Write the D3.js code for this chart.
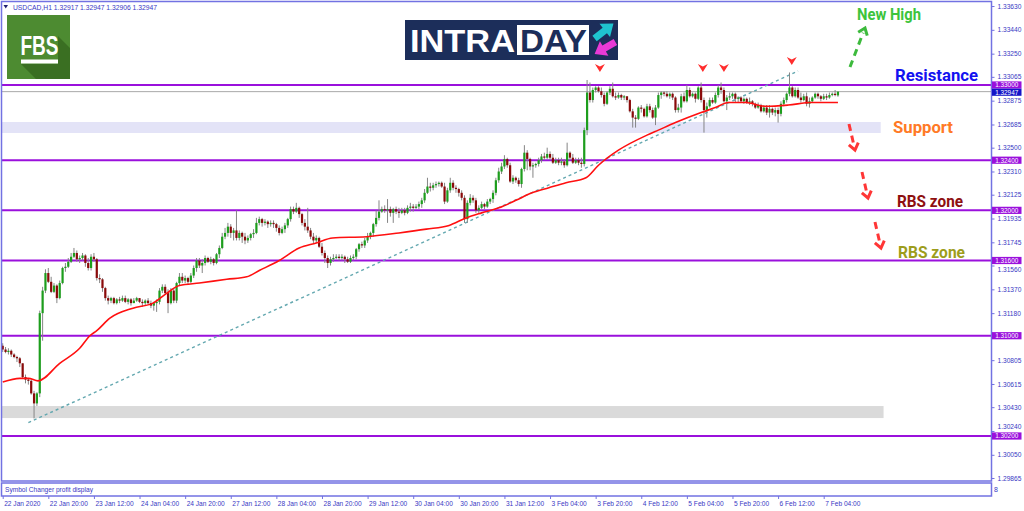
<!DOCTYPE html>
<html><head><meta charset="utf-8">
<script src="https://cdn.jsdelivr.net/npm/d3@7"></script>
<style>
html,body{margin:0;padding:0;background:#fff;}
svg{display:block;}
</style></head>
<body>
<svg id="c" width="1024" height="511"></svg>
<script>
// ---------------- DATA (USDCAD H1, one entry per bar) ----------------
const symbolInfo = "USDCAD,H1  1.32917 1.32947 1.32906 1.32947";
const opens = [
1.3092,1.3089,1.3087,1.3088,1.3085,1.3083,1.3082,1.3078,1.3067,1.3065,
1.3064,1.3054,1.3046,1.3054,1.3118,1.3136,1.3150,1.3143,1.3135,1.3140,
1.3130,1.3142,1.3154,1.3155,1.3159,1.3163,1.3166,1.3161,1.3162,1.3164,
1.3158,1.3154,1.3163,1.3161,1.3146,1.3145,1.3138,1.3130,1.3128,1.3130,
1.3126,1.3129,1.3128,1.3130,1.3127,1.3129,1.3126,1.3128,1.3130,1.3127,
1.3126,1.3128,1.3126,1.3124,1.3126,1.3127,1.3136,1.3139,1.3134,1.3126,
1.3136,1.3128,1.3142,1.3147,1.3144,1.3146,1.3143,1.3148,1.3154,1.3160,
1.3156,1.3158,1.3162,1.3159,1.3161,1.3158,1.3165,1.3170,1.3179,1.3182,
1.3187,1.3182,1.3184,1.3178,1.3182,1.3179,1.3176,1.3178,1.3181,1.3182,
1.3190,1.3193,1.3190,1.3191,1.3189,1.3190,1.3189,1.3186,1.3182,1.3185,
1.3188,1.3193,1.3201,1.3199,1.3202,1.3197,1.3190,1.3187,1.3184,1.3179,
1.3176,1.3178,1.3171,1.3166,1.3162,1.3158,1.3161,1.3162,1.3163,1.3162,
1.3163,1.3161,1.3159,1.3162,1.3163,1.3169,1.3173,1.3172,1.3176,1.3179,
1.3182,1.3189,1.3194,1.3199,1.3201,1.3200,1.3201,1.3198,1.3201,1.3199,
1.3198,1.3200,1.3198,1.3202,1.3203,1.3202,1.3203,1.3205,1.3208,1.3214,
1.3219,1.3218,1.3220,1.3221,1.3222,1.3219,1.3207,1.3216,1.3222,1.3218,
1.3217,1.3214,1.3210,1.3193,1.3206,1.3210,1.3208,1.3200,1.3202,1.3205,
1.3203,1.3207,1.3209,1.3214,1.3224,1.3231,1.3235,1.3241,1.3236,1.3223,
1.3226,1.3224,1.3221,1.3233,1.3246,1.3241,1.3235,1.3236,1.3237,1.3240,
1.3243,1.3242,1.3245,1.3242,1.3238,1.3240,1.3238,1.3239,1.3236,1.3246,
1.3242,1.3238,1.3240,1.3238,1.3237,1.3264,1.3294,1.3288,1.3296,1.3298,
1.3295,1.3292,1.3285,1.3294,1.3297,1.3291,1.3290,1.3292,1.3290,1.3291,
1.3288,1.3279,1.3274,1.3273,1.3282,1.3281,1.3275,1.3283,1.3280,1.3274,
1.3282,1.3292,1.3294,1.3293,1.3291,1.3293,1.3290,1.3280,1.3282,1.3291,
1.3287,1.3296,1.3291,1.3293,1.3289,1.3298,1.3288,1.3280,1.3283,1.3288,
1.3286,1.3292,1.3298,1.3296,1.3287,1.3290,1.3291,1.3293,1.3289,1.3290,
1.3287,1.3289,1.3286,1.3287,1.3285,1.3282,1.3284,1.3279,1.3282,1.3278,
1.3281,1.3278,1.3280,1.3277,1.3285,1.3288,1.3293,1.3298,1.3291,1.3296,
1.3290,1.3288,1.3291,1.3285,1.3287,1.3290,1.3293,1.3291,1.3289,1.3291,
1.3290,1.3292,1.3293,1.32917];
const highs = [
1.3094,1.3091,1.3090,1.3089,1.3086,1.3084,1.3083,1.3078,1.3069,1.3066,
1.3065,1.3056,1.3055,1.3120,1.3139,1.3153,1.3154,1.3147,1.3142,1.3141,
1.3144,1.3155,1.3158,1.3162,1.3166,1.3170,1.3168,1.3164,1.3166,1.3165,
1.3162,1.3165,1.3166,1.3162,1.3149,1.3146,1.3139,1.3132,1.3131,1.3131,
1.3130,1.3131,1.3132,1.3132,1.3130,1.3130,1.3130,1.3131,1.3130,1.3129,
1.3129,1.3130,1.3128,1.3127,1.3129,1.3138,1.3141,1.3141,1.3137,1.3138,
1.3138,1.3143,1.3150,1.3150,1.3148,1.3147,1.3150,1.3156,1.3162,1.3162,
1.3161,1.3164,1.3163,1.3163,1.3162,1.3166,1.3172,1.3182,1.3186,1.3190,
1.3189,1.3186,1.3200,1.3184,1.3183,1.3182,1.3180,1.3182,1.3185,1.3194,
1.3195,1.3194,1.3193,1.3192,1.3192,1.3192,1.3190,1.3188,1.3187,1.3190,
1.3194,1.3203,1.3203,1.3206,1.3203,1.3198,1.3193,1.3202,1.3186,1.3182,
1.3180,1.3179,1.3174,1.3168,1.3164,1.3163,1.3165,1.3165,1.3165,1.3165,
1.3164,1.3163,1.3164,1.3165,1.3170,1.3174,1.3175,1.3178,1.3182,1.3183,
1.3190,1.3200,1.3208,1.3203,1.3204,1.3209,1.3203,1.3202,1.3203,1.3202,
1.3202,1.3202,1.3204,1.3206,1.3205,1.3205,1.3207,1.3210,1.3217,1.3226,
1.3222,1.3222,1.3223,1.3223,1.3223,1.3222,1.3218,1.3226,1.3224,1.3220,
1.3218,1.3216,1.3212,1.3208,1.3213,1.3212,1.3210,1.3204,1.3207,1.3206,
1.3209,1.3210,1.3216,1.3226,1.3234,1.3238,1.3244,1.3242,1.3238,1.3228,
1.3227,1.3226,1.3234,1.3252,1.3248,1.3242,1.3238,1.3238,1.3242,1.3245,
1.3246,1.3250,1.3247,1.3245,1.3242,1.3242,1.3242,1.3241,1.3254,1.3247,
1.3245,1.3242,1.3242,1.3242,1.3266,1.3304,1.3302,1.3298,1.3299,1.3299,
1.3298,1.3294,1.3295,1.3299,1.3302,1.3294,1.3294,1.3293,1.3292,1.3291,
1.3289,1.3281,1.3276,1.3283,1.3284,1.3282,1.3285,1.3285,1.3282,1.3284,
1.3294,1.3295,1.3295,1.3295,1.3294,1.3294,1.3291,1.3285,1.3293,1.3294,
1.3300,1.3298,1.3294,1.3294,1.3299,1.3302,1.3290,1.3286,1.3290,1.3290,
1.3294,1.3300,1.3302,1.3298,1.3292,1.3294,1.3294,1.3294,1.3291,1.3291,
1.3290,1.3290,1.3290,1.3288,1.3286,1.3286,1.3285,1.3284,1.3284,1.3284,
1.3282,1.3282,1.3282,1.3287,1.3290,1.3294,1.3310,1.3299,1.3298,1.3298,
1.3294,1.3293,1.3294,1.3290,1.3291,1.3294,1.3294,1.3292,1.3293,1.3293,
1.3294,1.3294,1.3296,1.32947];
const lows = [
1.3087,1.3086,1.3085,1.3083,1.3082,1.3079,1.3075,1.3066,1.3062,1.3061,
1.3053,1.3034,1.3044,1.3051,1.3096,1.3134,1.3142,1.3134,1.3134,1.3126,
1.3129,1.3141,1.3151,1.3154,1.3158,1.3162,1.3159,1.3158,1.3160,1.3155,
1.3152,1.3152,1.3159,1.3144,1.3142,1.3135,1.3128,1.3125,1.3126,1.3125,
1.3125,1.3126,1.3127,1.3126,1.3125,1.3124,1.3126,1.3127,1.3126,1.3123,
1.3124,1.3125,1.3122,1.3120,1.3119,1.3125,1.3134,1.3133,1.3118,1.3125,
1.3126,1.3126,1.3140,1.3142,1.3142,1.3141,1.3142,1.3146,1.3151,1.3154,
1.3150,1.3156,1.3158,1.3157,1.3156,1.3157,1.3162,1.3169,1.3177,1.3179,
1.3178,1.3176,1.3176,1.3176,1.3174,1.3173,1.3174,1.3176,1.3178,1.3181,
1.3188,1.3187,1.3188,1.3186,1.3187,1.3186,1.3183,1.3180,1.3181,1.3182,
1.3186,1.3191,1.3197,1.3198,1.3194,1.3188,1.3184,1.3182,1.3177,1.3174,
1.3174,1.3170,1.3164,1.3158,1.3154,1.3156,1.3159,1.3161,1.3160,1.3160,
1.3158,1.3158,1.3158,1.3160,1.3161,1.3167,1.3170,1.3170,1.3174,1.3177,
1.3179,1.3187,1.3192,1.3198,1.3198,1.3190,1.3195,1.3190,1.3197,1.3194,
1.3197,1.3196,1.3197,1.3199,1.3199,1.3201,1.3201,1.3202,1.3206,1.3213,
1.3215,1.3216,1.3218,1.3219,1.3218,1.3205,1.3206,1.3214,1.3216,1.3214,
1.3211,1.3208,1.3190,1.3190,1.3204,1.3206,1.3198,1.3198,1.3201,1.3201,
1.3202,1.3205,1.3206,1.3212,1.3222,1.3229,1.3233,1.3234,1.3222,1.3221,
1.3222,1.3219,1.3218,1.3231,1.3232,1.3232,1.3226,1.3234,1.3235,1.3238,
1.3240,1.3241,1.3240,1.3237,1.3237,1.3236,1.3236,1.3234,1.3235,1.3240,
1.3237,1.3237,1.3236,1.3234,1.3235,1.3260,1.3286,1.3286,1.3294,1.3294,
1.3290,1.3283,1.3284,1.3292,1.3290,1.3288,1.3289,1.3288,1.3288,1.3286,
1.3278,1.3266,1.3266,1.3272,1.3278,1.3274,1.3274,1.3278,1.3273,1.3268,
1.3281,1.3289,1.3291,1.3290,1.3289,1.3288,1.3278,1.3278,1.3278,1.3286,
1.3286,1.3290,1.3290,1.3286,1.3288,1.3286,1.3262,1.3274,1.3282,1.3285,
1.3285,1.3290,1.3293,1.3286,1.3280,1.3288,1.3289,1.3286,1.3286,1.3286,
1.3285,1.3285,1.3284,1.3283,1.3281,1.3281,1.3278,1.3278,1.3276,1.3274,
1.3276,1.3275,1.3270,1.3275,1.3283,1.3286,1.3291,1.3290,1.3290,1.3289,
1.3286,1.3287,1.3283,1.3282,1.3286,1.3289,1.3289,1.3287,1.3288,1.3288,
1.3289,1.3291,1.3291,1.32906];
const closes = [
1.3089,1.3087,1.3088,1.3085,1.3083,1.3082,1.3078,1.3067,1.3065,1.3064,
1.3054,1.3046,1.3054,1.3118,1.3136,1.3150,1.3143,1.3135,1.3140,1.3130,
1.3142,1.3154,1.3155,1.3159,1.3163,1.3166,1.3161,1.3162,1.3164,1.3158,
1.3154,1.3163,1.3161,1.3146,1.3145,1.3138,1.3130,1.3128,1.3130,1.3126,
1.3129,1.3128,1.3130,1.3127,1.3129,1.3126,1.3128,1.3130,1.3127,1.3126,
1.3128,1.3126,1.3124,1.3126,1.3127,1.3136,1.3139,1.3134,1.3126,1.3136,
1.3128,1.3142,1.3147,1.3144,1.3146,1.3143,1.3148,1.3154,1.3160,1.3156,
1.3158,1.3162,1.3159,1.3161,1.3158,1.3165,1.3170,1.3179,1.3182,1.3187,
1.3182,1.3184,1.3178,1.3182,1.3179,1.3176,1.3178,1.3181,1.3182,1.3190,
1.3193,1.3190,1.3191,1.3189,1.3190,1.3189,1.3186,1.3182,1.3185,1.3188,
1.3193,1.3201,1.3199,1.3202,1.3197,1.3190,1.3187,1.3184,1.3179,1.3176,
1.3178,1.3171,1.3166,1.3162,1.3158,1.3161,1.3162,1.3163,1.3162,1.3163,
1.3161,1.3159,1.3162,1.3163,1.3169,1.3173,1.3172,1.3176,1.3179,1.3182,
1.3189,1.3194,1.3199,1.3201,1.3200,1.3201,1.3198,1.3201,1.3199,1.3198,
1.3200,1.3198,1.3202,1.3203,1.3202,1.3203,1.3205,1.3208,1.3214,1.3219,
1.3218,1.3220,1.3221,1.3222,1.3219,1.3207,1.3216,1.3222,1.3218,1.3217,
1.3214,1.3210,1.3193,1.3206,1.3210,1.3208,1.3200,1.3202,1.3205,1.3203,
1.3207,1.3209,1.3214,1.3224,1.3231,1.3235,1.3241,1.3236,1.3223,1.3226,
1.3224,1.3221,1.3233,1.3246,1.3241,1.3235,1.3236,1.3237,1.3240,1.3243,
1.3242,1.3245,1.3242,1.3238,1.3240,1.3238,1.3239,1.3236,1.3246,1.3242,
1.3238,1.3240,1.3238,1.3237,1.3264,1.3294,1.3288,1.3296,1.3298,1.3295,
1.3292,1.3285,1.3294,1.3297,1.3291,1.3290,1.3292,1.3290,1.3291,1.3288,
1.3279,1.3274,1.3273,1.3282,1.3281,1.3275,1.3283,1.3280,1.3274,1.3282,
1.3292,1.3294,1.3293,1.3291,1.3293,1.3290,1.3280,1.3282,1.3291,1.3287,
1.3296,1.3291,1.3293,1.3289,1.3298,1.3288,1.3280,1.3283,1.3288,1.3286,
1.3292,1.3298,1.3296,1.3287,1.3290,1.3291,1.3293,1.3289,1.3290,1.3287,
1.3289,1.3286,1.3287,1.3285,1.3282,1.3284,1.3279,1.3282,1.3278,1.3281,
1.3278,1.3280,1.3277,1.3285,1.3288,1.3293,1.3298,1.3291,1.3296,1.3290,
1.3288,1.3291,1.3285,1.3287,1.3290,1.3293,1.3291,1.3289,1.3291,1.3290,
1.3292,1.3293,1.3292,1.32947];

// moving average (bar index, price)
const maBars   = [0,6,9,12.4,20,27,30.6,33,37.6,45.7,52.7,57.6,62,69,78.6,85.6,90,97,104,110,115.7,127.6,139,148.6,156.6,162.6,168,174,180,185.7,191.6,197.6,204.6,209,216,226,230,236,245,250,254.6,260.6,267.6,275.6,283.7,293];
const maValues = [1.3063,1.3066,1.3066,1.3064,1.3078,1.3090,1.3100,1.3104,1.3114,1.3122,1.3126,1.3134,1.3140,1.3142,1.3145,1.3147,1.3152,1.3160,1.3170,1.3174,1.3178,1.3179,1.3182,1.3185,1.3188,1.3194,1.3198,1.3202,1.3208,1.3214,1.3218,1.3222,1.3226,1.3236,1.3248,1.3260,1.3264,1.3270,1.3278,1.3282,1.3286,1.3286,1.3283,1.3284,1.3286,1.3286];

// trend line anchors
const trendBars   = [9, 279];
const trendPrices = [1.30306, 1.33112];

// horizontal levels
const levels = [1.33000, 1.32400, 1.32000, 1.31600, 1.31000, 1.30200];
const currentPrice = 1.32947;

// zones (bar range, price range)
const zoneBars   = [[-2, 308], [-2, 309]];
const zonePrices = [[1.32705, 1.32617], [1.30439, 1.30343]];

// red markers above peaks
const markerBars   = [209.5, 245.6, 253, 276.8];
const markerPrices = [1.33136, 1.33136, 1.33136, 1.33191];

// axis labels (the label hidden behind the 1.31000 box is left out)
const priceTicks = [1.33630,1.33440,1.33250,1.33065,1.32875,1.32685,1.32500,1.32310,1.32125,1.31935,1.31745,1.31560,1.31370,1.31180,1.30805,1.30615,1.30430,1.30240,1.30050,1.29865];
const timeTickBars = [0,16,32,48,64,80,96,112,128,144,160,176,192,208,224,240,256,272,288];
const timeLabels = ["22 Jan 2020","22 Jan 20:00","23 Jan 12:00","24 Jan 04:00","24 Jan 20:00","27 Jan 12:00","28 Jan 04:00","28 Jan 20:00","29 Jan 12:00","30 Jan 04:00","30 Jan 20:00","31 Jan 12:00","3 Feb 04:00","3 Feb 20:00","4 Feb 12:00","5 Feb 04:00","5 Feb 20:00","6 Feb 12:00","7 Feb 04:00"];

// annotation texts
const annoTexts = ["New High","Resistance","Support","RBS zone","RBS zone"];

// ---------------- DRAWING ----------------
const svg = d3.select("#c");
const FRAME = "#7272e2", AXTXT = "#3838c4";
const pL = 1.5, pR = 991.5, pT = 1.5, pB = 481;

const x = d3.scaleLinear().domain([0, 288]).range([2.7, 823.7]);
const y = d3.scaleLinear().domain([1.302, 1.33]).range([436, 85]);

svg.append("rect").attr("width",1024).attr("height",511).attr("fill","#fff");
svg.append("defs").append("clipPath").attr("id","clip")
  .append("rect").attr("x",pL).attr("y",pT).attr("width",pR-pL).attr("height",pB-pT);
const plot = svg.append("g").attr("clip-path","url(#clip)");

// zones
const zoneColors = ["#e3e3f7", "#dadada"];
plot.selectAll("rect.zone").data(zoneBars).join("rect")
  .attr("x",(d)=>x(d[0])).attr("width",(d)=>x(d[1])-x(d[0]))
  .attr("y",(d,i)=>y(zonePrices[i][0])).attr("height",(d,i)=>y(zonePrices[i][1])-y(zonePrices[i][0]))
  .attr("fill",(d,i)=>zoneColors[i]);

// current price line
plot.append("line").attr("x1",pL).attr("x2",pR)
  .attr("y1",y(currentPrice)).attr("y2",y(currentPrice))
  .attr("stroke","#a8a8a8").attr("stroke-width",1);

// level lines
plot.selectAll("line.level").data(levels).join("line")
  .attr("x1",pL).attr("x2",pR).attr("y1",d=>y(d)).attr("y2",d=>y(d))
  .attr("stroke","#9a10dc").attr("stroke-width",2);

// trend line
plot.append("line")
  .attr("x1",x(trendBars[0])).attr("y1",y(trendPrices[0]))
  .attr("x2",x(trendBars[1])).attr("y2",y(trendPrices[1]))
  .attr("stroke","#64a8b0").attr("stroke-width",1.4).attr("stroke-dasharray","3,3");

// candles
const idx = d3.range(opens.length);
plot.append("g").selectAll("line").data(idx).join("line")
  .attr("x1",i=>x(i)).attr("x2",i=>x(i))
  .attr("y1",i=>y(highs[i])).attr("y2",i=>y(lows[i]))
  .attr("stroke","#858585").attr("stroke-width",1);
plot.append("g").selectAll("rect").data(idx).join("rect")
  .attr("x",i=>x(i)-1.1).attr("width",2.2)
  .attr("y",i=>y(Math.max(opens[i],closes[i])))
  .attr("height",i=>Math.max(0.9,Math.abs(y(opens[i])-y(closes[i]))))
  .attr("fill",i=>closes[i]>opens[i]?"#1d9e1d":(closes[i]<opens[i]?"#8a0a0a":"#777"));

// moving average
plot.append("path")
  .attr("d", d3.line().x((d,i)=>x(maBars[i])).y(d=>y(d)).curve(d3.curveMonotoneX)(maValues))
  .attr("fill","none").attr("stroke","#ff1010").attr("stroke-width",1.6);

// red markers above peaks
plot.selectAll("path.mk").data(markerBars).join("path")
  .attr("transform",(d,i)=>`translate(${x(d)},${y(markerPrices[i])})`)
  .attr("d","M-5,-4 L0,-1.5 L5,-4 L0,4 Z")
  .attr("fill","#ff2d2d");

// annotation arrows
function arrow(x1,y1,x2,y2,color){
  const g = svg.append("g");
  const dx=x2-x1, dy=y2-y1, L=Math.hypot(dx,dy), ux=dx/L, uy=dy/L;
  g.append("line").attr("x1",x1).attr("y1",y1).attr("x2",x2-ux*5).attr("y2",y2-uy*5)
   .attr("stroke",color).attr("stroke-width",3).attr("stroke-dasharray","7,5");
  const a=0.65, s=8;
  const bx=-ux, by=-uy;
  const p1=[x2+s*(bx*Math.cos(a)-by*Math.sin(a)), y2+s*(bx*Math.sin(a)+by*Math.cos(a))];
  const p2=[x2+s*(bx*Math.cos(-a)-by*Math.sin(-a)), y2+s*(bx*Math.sin(-a)+by*Math.cos(-a))];
  g.append("polyline").attr("points",`${p1} ${x2},${y2} ${p2}`)
   .attr("fill","none").attr("stroke",color).attr("stroke-width",3);
}
arrow(850,67,865,28,"#3cba3c");
arrow(849,124,855,150,"#ff3636");
arrow(862,172,868,198,"#ff3636");
arrow(875,222,881,248,"#ff3636");

// annotation texts
const annoX = [857, 895, 893, 897, 898];
const annoY = [20, 81, 133, 207, 258];
const annoW = [64, 83, 60, 66, 67];
const annoC = ["#3cc43c", "#1212f0", "#ff7a26", "#8e1010", "#9d9d1c"];
svg.selectAll("text.anno").data(annoTexts).join("text")
  .attr("x",(d,i)=>annoX[i]).attr("y",(d,i)=>annoY[i])
  .attr("textLength",(d,i)=>annoW[i]).attr("lengthAdjust","spacingAndGlyphs")
  .attr("font-family","Roboto, 'Liberation Sans', sans-serif").attr("font-weight","bold")
  .attr("font-size",16).attr("fill",(d,i)=>annoC[i]).text(d=>d);

// FBS logo
const fbs = svg.append("g");
fbs.append("rect").attr("x",7).attr("y",15).attr("width",63).attr("height",64).attr("fill","#4d8b31");
fbs.append("path").attr("d","M58,36 L70,48 L70,79 L36,79 L21,64 L58,64 Z").attr("fill","#3a6f22");
fbs.append("text").attr("x",20.5).attr("y",55).attr("font-family","'Liberation Sans', Arial, sans-serif")
  .attr("font-weight","bold").attr("font-size",27).attr("fill","#fff")
  .attr("textLength",38).attr("lengthAdjust","spacingAndGlyphs").text("FBS");
fbs.append("rect").attr("x",21).attr("y",59.5).attr("width",37).attr("height",4).attr("fill","#fff");

// INTRADAY logo
const intra = svg.append("g");
intra.append("rect").attr("x",405).attr("y",20).attr("width",213).attr("height",40).attr("fill","#1c2e5a");
intra.append("text").attr("x",410).attr("y",52).attr("font-family","'Liberation Sans', Arial, sans-serif")
  .attr("font-weight","bold").attr("font-size",32).attr("fill","#fff")
  .attr("textLength",105).attr("lengthAdjust","spacingAndGlyphs").text("INTRA");
intra.append("rect").attr("x",517).attr("y",25).attr("width",72).attr("height",30).attr("fill","#fff");
intra.append("text").attr("x",520).attr("y",52).attr("font-family","'Liberation Sans', Arial, sans-serif")
  .attr("font-weight","bold").attr("font-size",32).attr("fill","#1c2e5a")
  .attr("textLength",67).attr("lengthAdjust","spacingAndGlyphs").text("DAY");
const arrowShape = "M-12,-3.5 L1,-3.5 L1,-8.5 L12,0 L1,8.5 L1,3.5 L-12,3.5 Z";
intra.append("path").attr("d",arrowShape).attr("transform","translate(604,31) rotate(-38)").attr("fill","#1fc4cf");
intra.append("path").attr("d",arrowShape).attr("transform","translate(605,48) rotate(150)").attr("fill","#e83ad6");

// frames
svg.append("rect").attr("x",pL).attr("y",pT).attr("width",pR-pL).attr("height",pB-pT)
  .attr("fill","none").attr("stroke",FRAME).attr("stroke-width",1.5);
svg.append("rect").attr("x",pL).attr("y",483).attr("width",pR-pL).attr("height",13)
  .attr("fill","none").attr("stroke",FRAME).attr("stroke-width",1.5);
svg.append("text").attr("x",5).attr("y",491.5).attr("font-family","'Liberation Sans', Arial, sans-serif")
  .attr("font-size",6.6).attr("fill",AXTXT).text("Symbol Changer profit display");
svg.append("text").attr("x",994).attr("y",492).attr("font-family","'Liberation Sans', Arial, sans-serif")
  .attr("font-size",7).attr("fill",AXTXT).text("8");

// header
svg.append("path").attr("d","M3.5,5 L8,5 L5.75,8.5 Z").attr("fill","#202070");
svg.append("text").attr("x",13).attr("y",9.5).attr("font-family","'Liberation Sans', Arial, sans-serif")
  .attr("font-size",7).attr("fill",AXTXT).attr("textLength",144).attr("lengthAdjust","spacingAndGlyphs")
  .text(symbolInfo);

// right price axis
const yAxis = svg.append("g").attr("transform",`translate(${pR},0)`)
  .call(d3.axisRight(y).tickValues(priceTicks).tickFormat(d3.format(".5f")).tickSize(3).tickPadding(3));
yAxis.select(".domain").remove();
yAxis.selectAll("line").attr("stroke",FRAME);
yAxis.selectAll("text").attr("font-family","'Liberation Sans', Arial, sans-serif").attr("font-size",6.6).attr("fill",AXTXT);
// labels that sit right against a level box are nudged clear of it
yAxis.selectAll(".tick").filter(d=>levels.some(v=>Math.abs(y(v)-y(d))<8))
  .select("text").attr("dy", function(d){
    const v = levels.find(v=>Math.abs(y(v)-y(d))<8);
    return (y(d) < y(v)) ? "-0.45em" : "0.95em";
  });

// bottom time axis
const xAxis = svg.append("g").attr("transform","translate(0,496)")
  .call(d3.axisBottom(x).tickValues(timeTickBars).tickFormat((d,i)=>timeLabels[i]).tickSize(3));
xAxis.select(".domain").remove();
xAxis.selectAll("line").attr("stroke",FRAME);
xAxis.selectAll("text").attr("text-anchor","start").attr("y",5).attr("dx",1)
  .attr("font-family","'Liberation Sans', Arial, sans-serif").attr("font-size",6.6).attr("fill",AXTXT);

// price boxes on axis
const boxG = svg.append("g");
levels.forEach(v=>{
  const yy=y(v);
  boxG.append("rect").attr("x",992).attr("y",yy-3.6).attr("width",29.5).attr("height",7.2).attr("fill","#9a10dc");
  boxG.append("text").attr("x",1006.7).attr("y",yy+2.3).attr("text-anchor","middle")
    .attr("font-family","'Liberation Sans', Arial, sans-serif").attr("font-size",6.4).attr("fill","#fff")
    .text(d3.format(".5f")(v));
});
const cy = Math.max(y(currentPrice), y(levels[0])+7.2);
boxG.append("rect").attr("x",992).attr("y",cy-3.6).attr("width",29.5).attr("height",7.2).attr("fill","#1414c8");
boxG.append("text").attr("x",1006.7).attr("y",cy+2.3).attr("text-anchor","middle")
  .attr("font-family","'Liberation Sans', Arial, sans-serif").attr("font-size",6.4).attr("fill","#fff")
  .text(d3.format(".5f")(currentPrice));
</script>
</body></html>
